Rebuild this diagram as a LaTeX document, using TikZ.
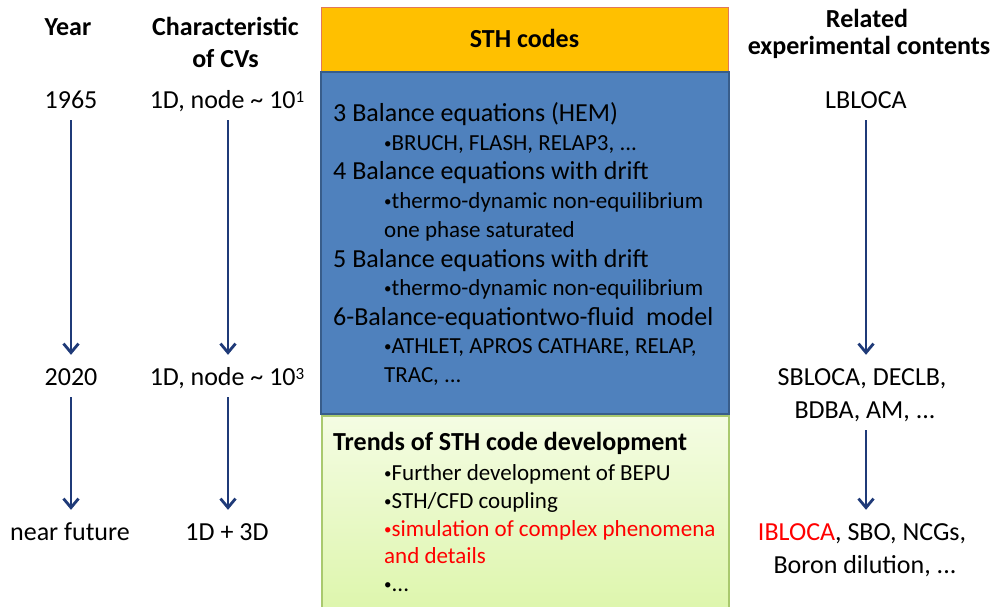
\documentclass[tikz,border=0pt]{standalone}
\usepackage{fontspec}
\setmainfont{Carlito}
\usetikzlibrary{arrows.meta}

\definecolor{navy}{HTML}{1F3A78}
\definecolor{hdrorange}{HTML}{FFC000}
\definecolor{hdrline}{HTML}{E0785A}
\definecolor{codeblue}{HTML}{4F81BD}
\definecolor{codeline}{HTML}{385D8A}
\definecolor{trendtop}{HTML}{F4FCE3}
\definecolor{trendbot}{HTML}{DAF5A4}
\definecolor{trendline}{HTML}{A9C96E}
\definecolor{hot}{HTML}{FF0000}

\newcommand\fsz[1]{\fontsize{#1}{#1}\selectfont}
% small list bullet and small raised exponent
\newcommand\blt{\raisebox{1.2pt}{\fsz{15}•}}
\newcommand\expo[1]{\raisebox{6pt}{\fsz{17}#1}}

\tikzset{
  colitem/.style={inner sep=0pt, text height=18pt, text depth=6pt, anchor=base, font=\fsz{26}},
  hdr/.style={inner sep=0pt, anchor=base, font=\bfseries\fsz{26}},
  mainline/.style={inner sep=0pt, anchor=base west, font=\fsz{26}},
  subline/.style={inner sep=0pt, anchor=base west, font=\fsz{23}},
  flow/.style={draw=navy, line width=2.8pt,
    -{Straight Barb[length=9pt,width=15pt]},
    shorten <=6pt, shorten >=12pt},
}

\begin{document}
\begin{tikzpicture}[x=1pt, y=-1pt]
\useasboundingbox (0,0) rectangle (993,606);
\clip (0,0) rectangle (993,606);

% --- central column: code boxes ---
\path[fill=hdrorange, draw=hdrline, line width=1pt] (321,7) rectangle (728.5,72);
\path[fill=codeblue, draw=codeline, line width=2pt] (321,72) rectangle (728.5,414);
\path[top color=trendtop, bottom color=trendbot, draw=trendline, line width=1.2pt]
  (322,416) rectangle (729,640);

\node[hdr] (sth) at (524.5,47) {STH codes};

\node[mainline] (b3)  at (333,121) {3 Balance equations (HEM)};
\node[subline]  (b3a) at (384,150) {\blt BRUCH, FLASH, RELAP3, ...};
\node[mainline] (b4)  at (333,179) {4 Balance equations with drift};
\node[subline]  (b4a) at (384,208) {\blt thermo-dynamic non-equilibrium};
\node[subline]  (b4b) at (384,237) {one phase saturated};
\node[mainline] (b5)  at (333,267) {5 Balance equations with drift};
\node[subline]  (b5a) at (384,295) {\blt thermo-dynamic non-equilibrium};
\node[mainline] (b6)  at (333,325) {6-Balance-equationtwo-fluid\ \ model};
\node[subline]  (b6a) at (384,353) {\blt ATHLET, APROS CATHARE, RELAP,};
\node[subline]  (b6b) at (384,382) {TRAC, ...};

\node[mainline, font=\bfseries\fsz{26}] (tr) at (333,450) {Trends of STH code development};
\node[subline] (tr1) at (384,480) {\blt Further development of BEPU};
\node[subline] (tr2) at (384,508) {\blt STH/CFD coupling};
\node[subline, text=hot] (tr3) at (384,536) {\blt simulation of complex phenomena};
\node[subline, text=hot] (tr4) at (384,563) {and details};
\node[subline] (tr5) at (384,591) {\blt ...};

% --- left column: years ---
\node[hdr] (yh) at (68,35) {Year};
\node[colitem] (y1) at (71,108) {1965};
\node[colitem] (y2) at (71,385) {2020};
\node[colitem] (y3) at (70,540) {near future};

% --- second column: control volumes ---
\node[hdr] (ch1) at (225.5,35) {Characteristic};
\node[hdr] (ch2) at (225.5,67) {of CVs};
\node[colitem] (c1) at (227,108) {1D, node \char"007E{} 10\expo{1}};
\node[colitem] (c2) at (227,385) {1D, node \char"007E{} 10\expo{3}};
\node[colitem] (c3) at (227,540) {1D + 3D};

% --- right column: experiments ---
\node[hdr] (eh1) at (867,27) {Related};
\node[hdr] (eh2) at (869,54) {experimental contents};
\node[colitem] (e1)  at (866,108) {LBLOCA};
\node[colitem] (e2a) at (862,385) {SBLOCA, DECLB,};
\node[colitem] (e2b) at (865,418) {BDBA, AM, ...};
\node[colitem] (e3a) at (862,540) {\textcolor{hot}{IBLOCA}, SBO, NCGs,};
\node[colitem] (e3b) at (865,573) {Boron dilution, ...};

% --- timeline arrows ---
\draw[flow] (y1.south) -- (y1.south |- y2.north);
\draw[flow] (y2.south) -- (y2.south |- y3.north);
\draw[flow] ([xshift=1pt]c1.south) -- ([xshift=1pt]c1.south |- c2.north);
\draw[flow] ([xshift=1pt]c2.south) -- ([xshift=1pt]c2.south |- c3.north);
\draw[flow] (e1.south) -- (e1.south |- e2a.north);
\draw[flow] ([xshift=1pt]e2b.south) -- ([xshift=1pt]e2b.south |- e3a.north);
\end{tikzpicture}
\end{document}
